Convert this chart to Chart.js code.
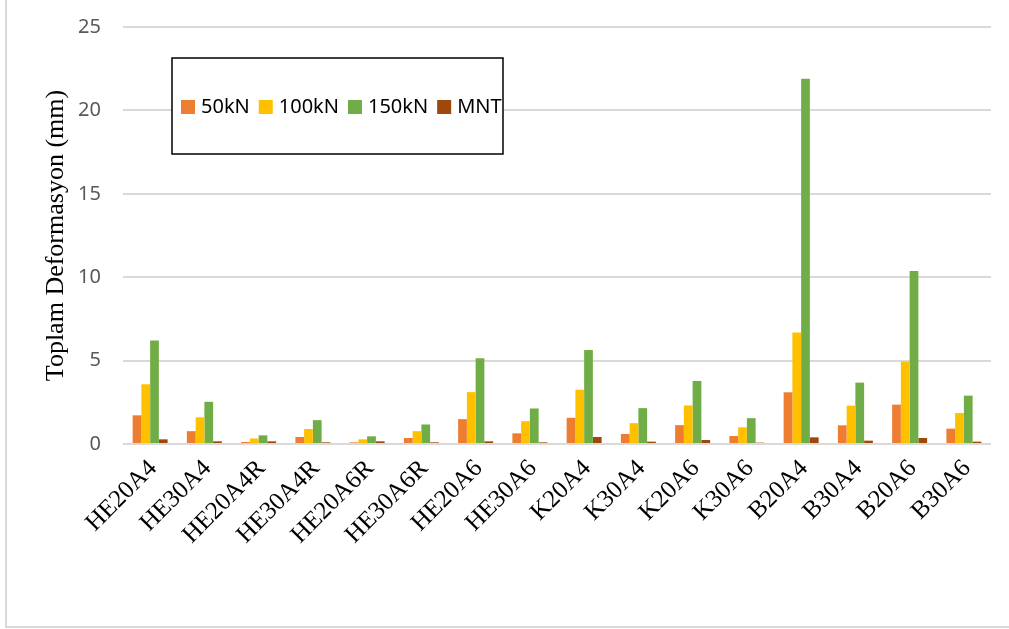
<!DOCTYPE html>
<html>
<head>
<meta charset="utf-8">
<script src="https://cdn.jsdelivr.net/npm/chart.js@4/dist/chart.umd.min.js"></script>
<style>
  html, body { margin: 0; padding: 0; background: #ffffff; }
  #wrap { width: 1009px; height: 629px; }
</style>
</head>
<body>
<div id="wrap"><canvas id="c" width="1009" height="629"></canvas></div>
<script>
// Specimen names along the horizontal axis
const categories = ['HE20A4', 'HE30A4', 'HE20A4R', 'HE30A4R', 'HE20A6R', 'HE30A6R', 'HE20A6', 'HE30A6',
                    'K20A4', 'K30A4', 'K20A6', 'K30A6', 'B20A4', 'B30A4', 'B20A6', 'B30A6'];

// Total deformation (mm) under each load level
const load50kN  = [1.72, 0.77, 0.12, 0.42, 0.10, 0.36, 1.49, 0.64, 1.57, 0.60, 1.13, 0.48, 3.10, 1.12, 2.36, 0.92];
const load100kN = [3.58, 1.60, 0.33, 0.90, 0.28, 0.77, 3.11, 1.37, 3.25, 1.25, 2.31, 1.00, 6.68, 2.30, 4.94, 1.86];
const load150kN = [6.20, 2.53, 0.52, 1.43, 0.46, 1.17, 5.14, 2.13, 5.64, 2.15, 3.78, 1.55, 21.89, 3.68, 10.37, 2.90];
const mntValues = [0.28, 0.16, 0.16, 0.10, 0.16, 0.10, 0.16, 0.10, 0.42, 0.14, 0.24, 0.08, 0.40, 0.20, 0.36, 0.14];

const seriesLabels = ['50kN', '100kN', '150kN', 'MNT'];
const yTicks = [0, 5, 10, 15, 20, 25];

const colors = ['#ED7D31', '#FFC000', '#70AD47', '#9E480E'];
const values = [load50kN, load100kN, load150kN, mntValues];

const datasets = seriesLabels.map((label, i) => ({
  label: label,
  data: values[i],
  backgroundColor: colors[i],
  borderWidth: 0,
  categoryPercentage: 0.645,
  barPercentage: 1.0
}));

// Light frame on the left and bottom edges of the figure
const framePlugin = {
  id: 'frame',
  beforeDraw(chart) {
    const ctx = chart.ctx;
    ctx.save();
    ctx.strokeStyle = '#d9d9d9';
    ctx.lineWidth = 2;
    ctx.beginPath();
    ctx.moveTo(6, 0);
    ctx.lineTo(6, 627);
    ctx.lineTo(chart.width, 627);
    ctx.stroke();
    ctx.restore();
  }
};

// Boxed legend drawn inside the plot area
const boxLegend = {
  id: 'boxLegend',
  afterDraw(chart, args, opts) {
    const ctx = chart.ctx;
    ctx.save();
    ctx.strokeStyle = '#000000';
    ctx.lineWidth = 1.5;
    ctx.fillStyle = '#ffffff';
    ctx.fillRect(opts.x, opts.y, opts.w, opts.h);
    ctx.strokeRect(opts.x, opts.y, opts.w, opts.h);
    ctx.font = opts.font;
    ctx.textBaseline = 'middle';
    ctx.textAlign = 'left';
    let x = opts.x + 9;
    const cy = opts.y + opts.h / 2 + 1;
    chart.data.datasets.forEach(ds => {
      ctx.fillStyle = ds.backgroundColor;
      ctx.fillRect(x, cy - 7, 14, 14);
      x += 14 + 6;
      ctx.fillStyle = '#000000';
      ctx.fillText(ds.label, x, cy);
      x += ctx.measureText(ds.label).width + 9;
    });
    ctx.restore();
  }
};

new Chart(document.getElementById('c'), {
  type: 'bar',
  data: { labels: categories, datasets: datasets },
  plugins: [framePlugin, boxLegend],
  options: {
    responsive: false,
    animation: false,
    layout: { padding: { left: 37, right: 18, top: 27, bottom: 0 } },
    plugins: {
      legend: { display: false },
      tooltip: { enabled: false },
      boxLegend: { x: 172, y: 58, w: 331, h: 96, font: '20px "Noto Sans"' }
    },
    scales: {
      x: {
        grid: { display: false, drawTicks: false },
        border: { display: false },
        ticks: {
          autoSkip: false,
          maxRotation: 45,
          minRotation: 45,
          padding: 10,
          labelOffset: 3,
          color: '#000000',
          font: { family: '"Liberation Serif", "Times New Roman", serif', size: 25 }
        },
        afterFit(scale) { scale.height = 185; }
      },
      y: {
        min: 0,
        max: 25,
        afterBuildTicks(scale) { scale.ticks = yTicks.map(v => ({ value: v })); },
        grid: { color: '#d9d9d9', lineWidth: 2, drawTicks: false },
        border: { display: false },
        ticks: {
          padding: 22,
          color: '#595959',
          font: { family: '"Noto Sans", sans-serif', size: 20 }
        },
        title: {
          display: true,
          text: 'Toplam Deformasyon (mm)',
          color: '#000000',
          padding: { top: 4, bottom: 0 },
          font: { family: '"Liberation Serif", "Times New Roman", serif', size: 26 }
        },
        afterFit(scale) {
          scale.width = 86;
          scale.paddingTop = 0;
          scale.paddingBottom = 0;
        }
      }
    }
  }
});
</script>
</body>
</html>
